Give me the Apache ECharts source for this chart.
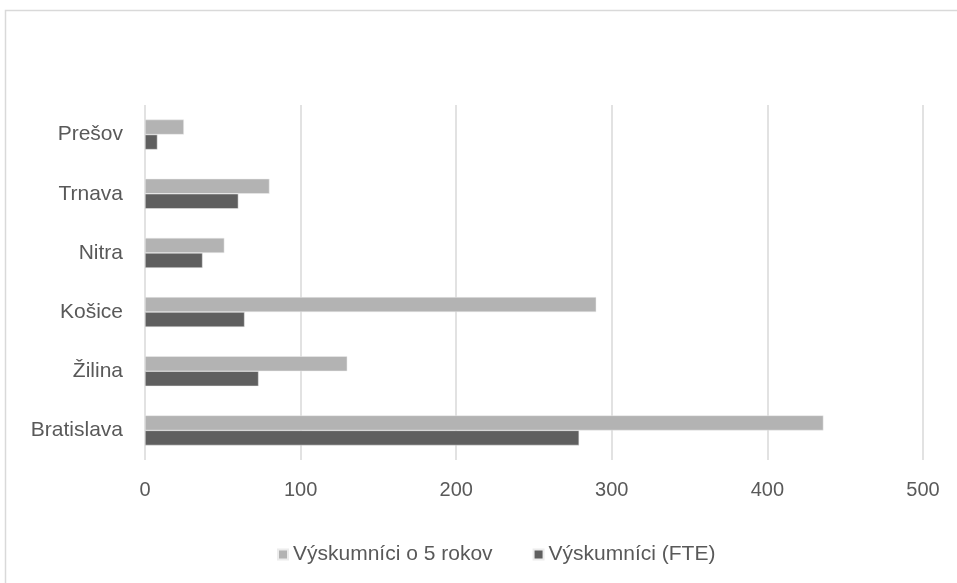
<!DOCTYPE html>
<html>
<head>
<meta charset="utf-8">
<script src="https://cdn.jsdelivr.net/npm/echarts@6/dist/echarts.min.js"></script>
<style>
  html, body { margin: 0; padding: 0; background: #fff; }
  #chart { width: 957px; height: 583px; }
</style>
</head>
<body>
<div id="chart"></div>
<script>
// Regions, listed bottom to top along the category axis
const regions = ['Bratislava', 'Žilina', 'Košice', 'Nitra', 'Trnava', 'Prešov'];
// Researchers in five years
const researchersIn5Years = [436, 130, 290, 51, 80, 25];
// Researchers, full-time equivalent
const researchersFTE = [279, 73, 64, 37, 60, 8];
const seriesNames = ['Výskumníci o 5 rokov', 'Výskumníci (FTE)'];
const valueTicks = { min: 0, max: 500, interval: 100 };

const FONT = '"Liberation Sans", sans-serif';
const TEXT = '#595959';
const GRID = '#d9d9d9';

const chart = echarts.init(document.getElementById('chart'), null, { renderer: 'canvas' });
chart.setOption({
  animation: false,
  backgroundColor: '#fff',
  graphic: [{
    type: 'rect',
    shape: { x: 5.5, y: 10.5, width: 1200, height: 1200 },
    style: { fill: 'none', stroke: GRID, lineWidth: 1.5 },
    silent: true
  }],
  grid: { left: 145, right: 34, top: 105, bottom: 123, containLabel: false },
  legend: {
    data: seriesNames,
    top: 539,
    left: 272,
    icon: 'rect',
    itemWidth: 10,
    itemHeight: 10,
    itemGap: 40,
    textStyle: { color: TEXT, fontSize: 21, fontFamily: FONT }
  },
  xAxis: {
    type: 'value',
    min: valueTicks.min,
    max: valueTicks.max,
    interval: valueTicks.interval,
    axisLine: { show: false },
    axisTick: { show: false },
    axisLabel: { color: TEXT, fontSize: 20, fontFamily: FONT, margin: 20 },
    splitLine: { show: true, lineStyle: { color: GRID, width: 1.5 } }
  },
  yAxis: {
    type: 'category',
    data: regions,
    axisLine: { show: false },
    axisTick: { show: false },
    axisLabel: { color: TEXT, fontSize: 21, fontFamily: FONT, margin: 22 }
  },
  series: [
    {
      name: seriesNames[0],
      type: 'bar',
      data: researchersIn5Years,
      barWidth: 15,
      barGap: '0%',
      itemStyle: { color: '#b3b3b3', borderColor: '#ececec', borderWidth: 0.5 }
    },
    {
      name: seriesNames[1],
      type: 'bar',
      data: researchersFTE,
      barWidth: 15,
      barGap: '0%',
      itemStyle: { color: '#5f5f5f', borderColor: '#ececec', borderWidth: 0.5 }
    }
  ]
});
</script>
</body>
</html>
